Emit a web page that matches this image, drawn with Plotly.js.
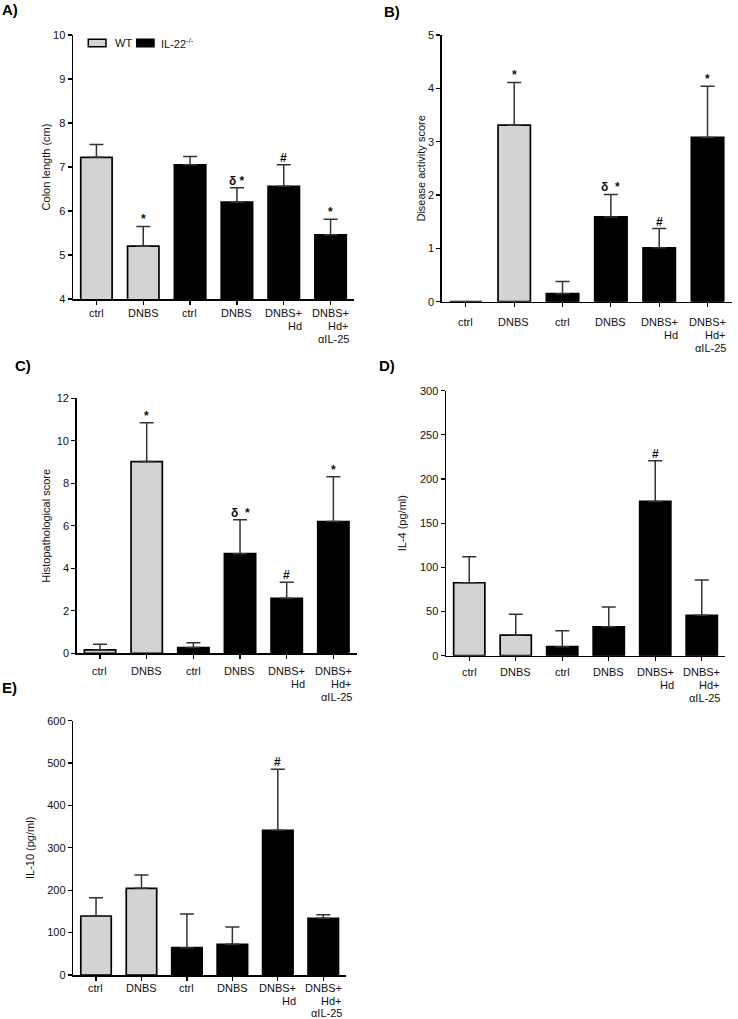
<!DOCTYPE html>
<html><head><meta charset="utf-8">
<script src="https://cdn.plot.ly/plotly-3.0.1.min.js"></script>
<style>html,body{margin:0;padding:0;background:#fff}#chart{width:738px;height:1019px}</style>
</head><body><div id="chart"></div>
<script>
// ---------------- data ----------------
const groupNames = ['WT', 'IL-22<sup>-/-</sup>'];
const tickLines = [['ctrl'], ['DNBS'], ['ctrl'], ['DNBS'], ['DNBS+', 'Hd'], ['DNBS+', 'Hd+', 'αIL-25']];
const wtIdx = [0, 1];
const koIdx = [2, 3, 4, 5];

const panelLetters = ['A)', 'B)', 'C)', 'D)', 'E)'];
const yTitles = ['Colon length (cm)', 'Disease activity score', 'Histopathological score', 'IL-4 (pg/ml)', 'IL-10 (pg/ml)'];

const colonMean = [7.22, 5.20, 7.05, 6.20, 6.56, 5.46];
const colonErr  = [0.29, 0.45, 0.19, 0.33, 0.49, 0.35];
const colonSig  = ['', '*', '', 'δ *', '#', '*'];

const daiMean = [0, 3.31, 0.15, 1.59, 1.01, 3.08];
const daiErr  = [0, 0.80, 0.23, 0.42, 0.36, 0.96];
const daiSig  = ['', '*', '', 'δ  *', '#', '*'];

const histoMean = [0.16, 9.02, 0.27, 4.69, 2.59, 6.20];
const histoErr  = [0.26, 1.83, 0.23, 1.60, 0.75, 2.11];
const histoSig  = ['', '*', '', 'δ  *', '#', '*'];

const il4Mean = [82.6, 23.4, 10.2, 32.8, 174.7, 45.7];
const il4Err  = [29.4, 23.6, 18.1, 22.3, 46.1, 40.0];
const il4Sig  = ['', '', '', '', '#', ''];

const il10Mean = [139.2, 204.6, 64.5, 72.4, 341.4, 133.8];
const il10Err  = [43.2, 31.4, 79.5, 40.9, 144.0, 8.5];
const il10Sig  = ['', '', '', '', '#', ''];

const yRanges = [[4, 10], [0, 5], [0, 12], [0, 300], [0, 600]];
const yDticks = [1, 1, 2, 50, 100];

// ---------------- layout geometry / styles ----------------
const W = 738, H = 1019;
const FONT = '"Liberation Sans", Arial, sans-serif';
const TXT = '#111';
const GRAY = '#d3d3d3';
const TICK_SIZE = 11;
// plot boxes in pixels: left, right, top, bottom
const boxes = [
  [73, 354, 35, 299],
  [441.7, 731.7, 35, 301.7],
  [76.7, 356.7, 398.3, 653.3],
  [446, 725, 390.7, 655.7],
  [73.3, 346, 720.7, 975]
];
const standoffs = [0, 0, 4, 11, 10];
const labelOffset = [14, 20, 18, 16, 13];   // px from x axis to first label line centre
const lineGap = [13, 13, 13, 13, 12.5];
const letterPos = [[0, 10], [382, 12], [13, 365], [377, 365], [0, 687]];

const panels = [
  {mean: colonMean, err: colonErr, sig: colonSig},
  {mean: daiMean, err: daiErr, sig: daiSig},
  {mean: histoMean, err: histoErr, sig: histoSig},
  {mean: il4Mean, err: il4Err, sig: il4Sig},
  {mean: il10Mean, err: il10Err, sig: il10Sig}
];

const ctx = document.createElement('canvas').getContext('2d');
ctx.font = TICK_SIZE + 'px "Liberation Sans", Arial, sans-serif';
const labelWidths = tickLines.map(lines => Math.max(...lines.map(l => ctx.measureText(l).width)));
const tickVals = tickLines.map((_, i) => i);

const px2x = p => p / W;
const px2y = p => 1 - p / H;

const data = [];
const layout = {
  width: W, height: H, autosize: false,
  margin: {l: 0, r: 0, t: 0, b: 0, pad: 0},
  paper_bgcolor: '#fff', plot_bgcolor: '#fff',
  showlegend: false,
  barmode: 'overlay',
  font: {family: FONT, size: TICK_SIZE, color: TXT},
  annotations: [], shapes: []
};

panels.forEach((p, i) => {
  const n = i === 0 ? '' : String(i + 1);
  const xa = 'x' + n, ya = 'y' + n;
  const b = boxes[i];
  [wtIdx, koIdx].forEach((idx, g) => {
    data.push({
      type: 'bar',
      name: groupNames[g].replace(/<[^>]+>/g, ''),
      x: idx,
      y: idx.map(k => p.mean[k]),
      width: 0.67,
      xaxis: xa, yaxis: ya,
      marker: {color: g === 0 ? GRAY : '#000', line: {color: '#000', width: 1.7}},
      error_y: {type: 'data', symmetric: false, array: idx.map(k => p.err[k]),
                arrayminus: idx.map(() => 0), color: '#333', thickness: 1.5, width: 7},
      hoverinfo: 'skip'
    });
  });
  layout['xaxis' + n] = {
    domain: [px2x(b[0]), px2x(b[1])], anchor: ya,
    range: [-0.5, 5.5], tickmode: 'array', tickvals: tickVals, showticklabels: false,
    showgrid: false, zeroline: false, showline: true, linecolor: '#000', linewidth: 1.5,
    ticks: 'outside', ticklen: 4, tickwidth: 1.2, tickcolor: '#000',
    automargin: false, fixedrange: true
  };
  layout['yaxis' + n] = {
    domain: [px2y(b[3]), px2y(b[2])], anchor: xa,
    range: yRanges[i], dtick: yDticks[i], tick0: 0,
    showgrid: false, zeroline: false, showline: true, linecolor: '#000', linewidth: 1.5,
    ticks: 'outside', ticklen: 4, tickwidth: 1.2, tickcolor: '#000',
    tickfont: {family: FONT, size: TICK_SIZE, color: TXT},
    title: {text: yTitles[i], font: {family: FONT, size: TICK_SIZE, color: TXT}, standoff: standoffs[i]},
    automargin: false, fixedrange: true
  };
  // category labels (right-aligned lines, as in the reference)
  tickLines.forEach((lines, k) => {
    lines.forEach((line, j) => {
      layout.annotations.push({
        xref: xa, yref: 'paper', x: k, xanchor: 'right', xshift: labelWidths[k] / 2 + 2,
        y: px2y(b[3] + labelOffset[i] + j * lineGap[i]), yanchor: 'middle',
        text: line, showarrow: false,
        font: {family: FONT, size: TICK_SIZE, color: TXT}
      });
    });
  });
  // significance marks
  p.sig.forEach((s, k) => {
    if (!s) return;
    layout.annotations.push({
      xref: xa, yref: ya, x: k, y: p.mean[k] + p.err[k], text: '<b>' + s + '</b>',
      showarrow: false, xanchor: 'center', yanchor: 'bottom', yshift: -2,
      font: {family: FONT, size: 12, color: TXT}
    });
  });
  // panel letter
  layout.annotations.push({
    xref: 'paper', yref: 'paper', x: px2x(letterPos[i][0]), y: px2y(letterPos[i][1]),
    xanchor: 'left', yanchor: 'middle', text: '<b>' + panelLetters[i] + '</b>', showarrow: false,
    font: {family: FONT, size: 15, color: '#000'}
  });
});

// legend (panel A)
const legendItems = [
  {box: [88.3, 106, 39.3, 46.7], fill: GRAY, textX: 113},
  {box: [136.7, 154, 39.3, 46.7], fill: '#000', textX: 159}
];
legendItems.forEach((it, g) => {
  layout.shapes.push({
    type: 'rect', xref: 'paper', yref: 'paper',
    x0: px2x(it.box[0]), x1: px2x(it.box[1]), y0: px2y(it.box[3]), y1: px2y(it.box[2]),
    fillcolor: it.fill, line: {color: '#000', width: 1.5}
  });
  layout.annotations.push({
    xref: 'paper', yref: 'paper', x: px2x(it.textX), y: px2y(43),
    xanchor: 'left', yanchor: 'middle', text: groupNames[g], showarrow: false,
    font: {family: FONT, size: 11, color: TXT}
  });
});

Plotly.newPlot('chart', data, layout, {displayModeBar: false, staticPlot: true});
</script>
</body></html>
